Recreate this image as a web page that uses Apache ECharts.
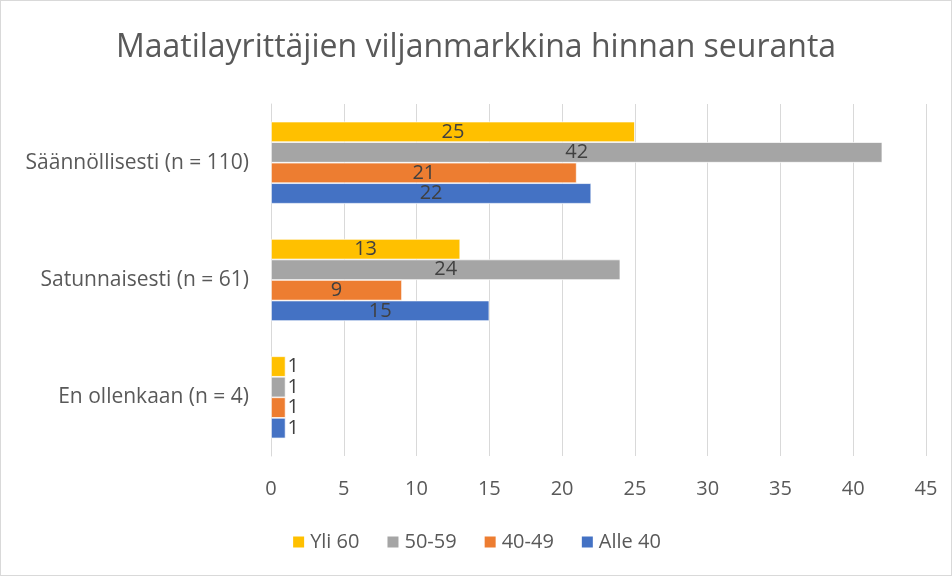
<!DOCTYPE html>
<html>
<head>
<meta charset="utf-8">
<script src="https://cdn.jsdelivr.net/npm/echarts@6/dist/echarts.min.js"></script>
<style>
html,body{margin:0;padding:0;background:#fff;}
#c{width:952px;height:576px;box-sizing:border-box;border:1px solid #D9D9D9;}
</style>
</head>
<body>
<div id="c"></div>
<script>
const titleText = 'Maatilayrittäjien viljanmarkkina hinnan seuranta';
const categories = ['En ollenkaan (n = 4)', 'Satunnaisesti (n = 61)', 'Säännöllisesti (n = 110)'];
const seriesNames = ['Yli 60', '50-59', '40-49', 'Alle 40'];
const yli60 = [1, 13, 25];
const v50_59 = [1, 24, 42];
const v40_49 = [1, 9, 21];
const alle40 = [1, 15, 22];
const legendOrder = ['Yli 60', '50-59', '40-49', 'Alle 40'];
const xTicks = [0, 5, 10, 15, 20, 25, 30, 35, 40, 45];

const colors = {'Alle 40':'#4472C4','40-49':'#ED7D31','50-59':'#A5A5A5','Yli 60':'#FFC000'};
const values = [yli60, v50_59, v40_49, alle40];
const FONT = "'Open Sans', 'Liberation Sans', sans-serif";

const chart = echarts.init(document.getElementById('c'));
const series = seriesNames.map((name, i) => ({
  name: name,
  type: 'bar',
  barGap: '0%',
  barCategoryGap: '30%',
  itemStyle: {color: colors[name], borderColor: '#fff', borderWidth: 0.7},
  label: {show: true, position: 'inside', color: '#404040', fontSize: 20, fontFamily: FONT},
  data: values[i].map(v => v < 3 ? {value: v, label: {position: 'right', distance: 2}} : v)
}));

chart.setOption({
  animation: false,
  color: seriesNames.map(n => colors[n]),
  title: {
    text: titleText, left: 'center', top: 26,
    textStyle: {fontSize: 32, fontWeight: 'normal', color: '#595959', fontFamily: FONT}
  },
  legend: {
    data: legendOrder, bottom: 18, left: 'center',
    icon: 'rect', itemWidth: 13, itemHeight: 13, itemGap: 26,
    textStyle: {fontSize: 20, color: '#595959', fontFamily: FONT}
  },
  grid: {left: 270, right: 25, top: 103, bottom: 119, containLabel: false, outerBoundsMode: 'none'},
  xAxis: {
    type: 'value', min: xTicks[0], max: xTicks[xTicks.length-1], interval: 5,
    axisLine: {show: false}, axisTick: {show: false},
    splitLine: {lineStyle: {color: '#D9D9D9', width: 1}},
    axisLabel: {fontSize: 20, color: '#595959', margin: 23, fontFamily: FONT}
  },
  yAxis: {
    type: 'category', data: categories,
    axisLine: {show: true, lineStyle: {color: '#D9D9D9', width: 1}},
    axisTick: {show: false},
    axisLabel: {fontSize: 21, color: '#595959', margin: 22, fontFamily: FONT}
  },
  series: series
});
</script>
</body>
</html>
